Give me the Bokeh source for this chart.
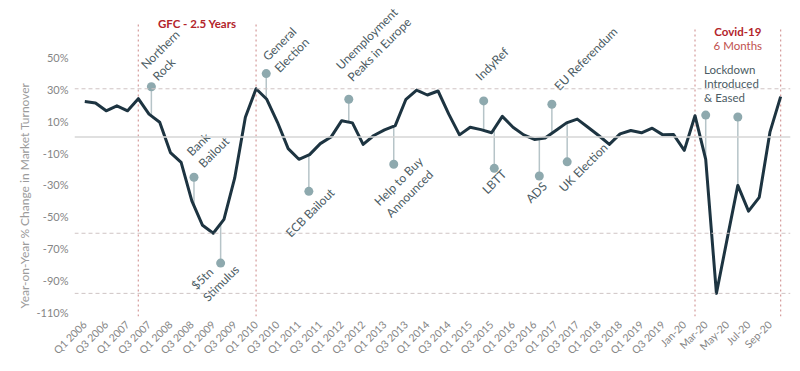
import numpy as np
from math import pi
from bokeh.plotting import figure
from bokeh.models import FixedTicker, Span, Title, Range1d
from bokeh.core.properties import value
from bokeh.embed import file_html
from bokeh.resources import INLINE

# ---------------- data ----------------
quarters = [f"Q{q} {y}" for y in range(2006, 2020) for q in (1, 2, 3, 4)]
months_2020 = ["Jan-20", "Feb-20", "Mar-20", "Apr-20", "May-20",
               "Jun-20", "Jul-20", "Aug-20", "Sep-20", "Oct-20"]
categories = quarters + months_2020

quarterly_change = [
    22.3, 21.4, 16.5, 19.6, 16.5, 24.1, 14.4, 9.3,      # 2006-2007
    -9.7, -15.9, -40.0, -55.3, -60.3, -51.6, -25.8, 12.4,  # 2008-2009
    30.3, 23.7, 9.3, -7.2, -13.9, -11.0, -4.1, 0.0,     # 2010-2011
    10.3, 8.9, -4.6, 1.0, 4.5, 7.2, 23.7, 29.5,         # 2012-2013
    26.4, 28.9, 14.4, 1.4, 6.2, 4.7, 2.7, 13.0,         # 2014-2015
    6.2, 1.4, -1.5, -0.6, 4.1, 8.9, 11.3, 6.2,          # 2016-2017
    1.0, -4.6, 2.0, 4.1, 2.7, 5.6, 1.4, 1.6,            # 2018-2019
]
monthly_change_2020 = [-8.3, 13.4, -14.0, -98.0, -64.0, -30.3, -46.4, -37.8, 3.1, 25.4]
yoy_change = quarterly_change + monthly_change_2020

y_ticks = [50, 30, 10, -10, -30, -50, -70, -90, -110]
y_tick_labels = [f"{t}%" for t in y_ticks]
x_tick_positions = list(range(0, len(categories), 2))
x_tick_labels = [categories[i] for i in x_tick_positions]

gfc_period = ("Q2 2007", "Q1 2010")
covid_period = ("Feb-20", "Oct-20")

event_labels = ["Northern\nRock", "Bank\nBailout", "$5tn\nStimulus", "General\nElection",
                "ECB Bailout", "Unemployment\nPeaks in Europe", "Help to Buy\nAnnounced",
                "IndyRef", "LBTT", "ADS", "EU Referendum", "UK Election"]
event_pos = [6.22, 10.2, 12.69, 16.95, 20.93, 24.66, 28.86, 37.26, 38.25, 42.46, 43.63, 45.06]
event_level = [31.6, -25.2, -79.0, 39.8, -34.0, 23.7, -17.0, 22.7, -19.6, -24.4, 20.6, -15.5]

lockdown_pos = [58.0, 61.0]
lockdown_level = [13.8, 12.6]
lockdown_lines = ["Lockdown", "Introduced", "& Eased"]

# ---------------- layout / style ----------------
W, H = 792, 363
ML, MR, MT, MB = 73, 2, 0, 43
FW, FH = W - ML - MR, H - MT - MB
x_lo, x_hi = -0.96, 65.92
y_lo, y_hi = -112.5, 85.65
ppx = FW / (x_hi - x_lo)   # px per category step
ppy = FH / (y_hi - y_lo)   # px per percent

# label offsets in screen px (dx right, dy down) from each pin head
label_dx = [-2.5, 0.8, -21.5, 4.5, -21.0, -5.0, -11.5, -6.0, -10.0, -11.5, 4.5, -6.0]
label_dy = [-14.5, -18.0, 30.5, -9.5, 44.0, -26.5, 45.5, -23.0, 23.5, 25.0, -16.5, 28.0]

FONT = "Lato"
LINE_C = "#1d3441"
PIN_C = "#8ea9ae"
STEM_C = "#b6c4c8"
ANN_C = "#4b5b63"
RED = "#b3242b"
VLINE_C = "#d49a9a"
REF_C = "#cfc4c4"

p = figure(width=W, height=H, x_range=Range1d(x_lo, x_hi), y_range=Range1d(y_lo, y_hi),
           output_backend="svg", toolbar_location=None,
           min_border_left=ML, min_border_right=MR, min_border_top=MT, min_border_bottom=MB)
p.outline_line_color = None
p.grid.visible = False

# axes
p.xaxis.ticker = FixedTicker(ticks=x_tick_positions)
p.xaxis.major_label_overrides = {i: lab for i, lab in zip(x_tick_positions, x_tick_labels)}
p.xaxis.major_label_orientation = pi / 4
p.yaxis.ticker = FixedTicker(ticks=y_ticks)
p.yaxis.major_label_overrides = {t: lab for t, lab in zip(y_ticks, y_tick_labels)}
for ax in (p.xaxis[0], p.yaxis[0]):
    ax.axis_line_color = None
    ax.major_tick_line_color = None
    ax.minor_tick_line_color = None
    ax.major_tick_out = 0
    ax.major_tick_in = 0
    ax.minor_tick_out = 0
    ax.major_label_text_font = FONT
    ax.major_label_text_color = "#858585"
    ax.major_label_standoff = 6
p.xaxis.major_label_text_font_size = "10.5px"
p.yaxis.major_label_text_font_size = "11px"

# y-axis title (starts near the bottom like the reference) plus an outer spacer panel
p.add_layout(Title(text="Year-on-Year % Change in Market Turnover", align="left",
                   offset=8, text_font=FONT, text_font_size="12px",
                   text_font_style="normal", text_color="#9b9b9b", standoff=4), "left")
p.add_layout(Title(text=" ", text_font_size="8.5px", standoff=0), "left")

# zero line and reference lines
p.add_layout(Span(location=0, dimension="width", line_color="#d6d6d6", line_width=1.5))
ref_levels = [max(yoy_change),
              min(yoy_change[categories.index(gfc_period[0]):categories.index(gfc_period[1]) + 1]),
              min(yoy_change[categories.index(covid_period[0]):categories.index(covid_period[1]) + 1])]
for lv in ref_levels:
    p.add_layout(Span(location=lv, dimension="width", line_color=REF_C, line_width=1,
                      line_dash="4 3"))

# period lines
gfc_idx = [categories.index(c) for c in gfc_period]
cov_idx = [categories.index(c) for c in covid_period]
gfc_top = y_hi - 22 / ppy
cov_top = y_hi - 29 / ppy
p.segment(x0=gfc_idx, y0=[y_lo] * 2, x1=gfc_idx, y1=[gfc_top] * 2,
          line_color=VLINE_C, line_width=1.2, line_dash="2 3")
p.segment(x0=cov_idx, y0=[y_lo] * 2, x1=cov_idx, y1=[cov_top] * 2,
          line_color=VLINE_C, line_width=1.2, line_dash="2 3")

p.text(x=[sum(gfc_idx) / 2], y=[y_hi - 23.3 / ppy], text=["GFC - 2.5 Years"],
       text_align="center", text_baseline="middle", text_font=value(FONT),
       text_font_size="11.5px", text_font_style="bold", text_color=RED)
p.text(x=[sum(cov_idx) / 2], y=[y_hi - 31 / ppy], text=["Covid-19"],
       text_align="center", text_baseline="middle", text_font=value(FONT),
       text_font_size="11.5px", text_font_style="bold", text_color=RED)
p.text(x=[sum(cov_idx) / 2], y=[y_hi - 45.7 / ppy], text=["6 Months"],
       text_align="center", text_baseline="middle", text_font=value(FONT),
       text_font_size="11.5px", text_color="#c0504d")

# pins
xs = np.arange(len(yoy_change))
all_pos = event_pos + lockdown_pos
all_lvl = event_level + lockdown_level
base = list(np.interp(all_pos, xs, yoy_change))
p.segment(x0=all_pos, y0=all_lvl, x1=all_pos, y1=base, line_color=STEM_C, line_width=1.5)

# main line
p.line(x=xs, y=yoy_change, line_color=LINE_C, line_width=3, line_join="round")

p.scatter(x=all_pos, y=all_lvl, size=9, fill_color=PIN_C, line_color=None)

# event labels
tx = [x + dx / ppx for x, dx in zip(event_pos, label_dx)]
ty = [y - dy / ppy for y, dy in zip(event_level, label_dy)]
p.text(x=tx, y=ty, text=event_labels, angle=pi / 4, text_align="left",
       text_baseline="middle", text_font=value(FONT), text_font_size="12px",
       text_color=ANN_C, text_line_height=1.1)

# lockdown note: one text per line, 14.5px apart, centred 32px above the first pin
n = len(lockdown_lines)
lk_y = [lockdown_level[0] + (32 + (n - 1 - 2 * i) * 14.5 / 2) / ppy for i in range(n)]
p.text(x=[lockdown_pos[0] - 1.7 / ppx] * n, y=lk_y, text=lockdown_lines,
       text_align="left", text_baseline="middle", text_font=value(FONT),
       text_font_size="11.5px", text_color=ANN_C)

open("out.html", "w").write(file_html(p, INLINE))
